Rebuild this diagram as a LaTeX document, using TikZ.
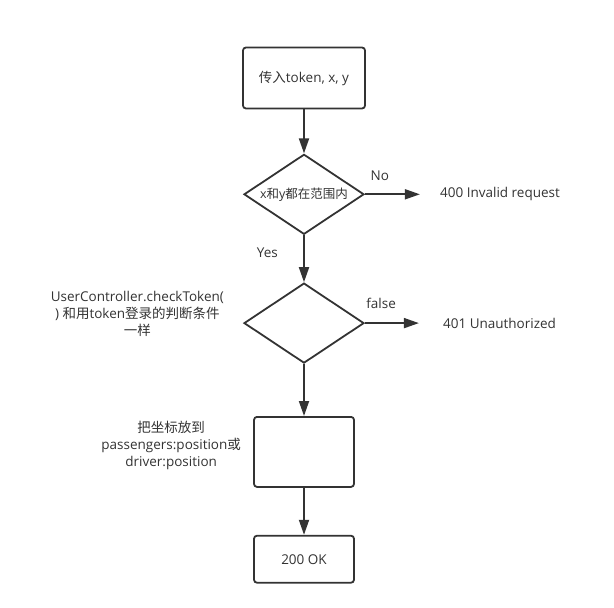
\documentclass[tikz,border=0pt]{standalone}
\usepackage{fontspec}
\setmainfont{Open Sans}
\newfontfamily\zh{Noto Sans CJK SC}
\usepackage{tikz}
\usetikzlibrary{positioning, arrows.meta, shapes.geometric}
\definecolor{ink}{HTML}{333333}

\begin{document}
\begin{tikzpicture}[
    x=1bp, y=1bp,
    font=\fontsize{13.5bp}{17bp}\selectfont, text=ink,
    process/.style={rectangle, draw=ink, line width=1.8bp, rounded corners=3bp, minimum width=122bp, minimum height=61bp},
    decision/.style={diamond, draw=ink, line width=1.8bp, minimum width=120bp, minimum height=80bp, inner sep=0pt},
    stage/.style={rectangle, draw=ink, line width=1.8bp, rounded corners=3bp, minimum width=100bp, minimum height=70bp},
    result/.style={inner xsep=20bp, inner ysep=0pt},
    note/.style={align=center, inner sep=0pt},
    arrow/.style={-{Triangle[length=15bp, width=10bp]}, line width=1.8bp, draw=ink}
]
\useasboundingbox (0,0) rectangle (614,-608);

% Main flow
\node[process] (token) at (304,-78) {{\zh 传入}token, x, y};
\node[decision, below=44bp of token, label={[font=\fontsize{12.5bp}{15bp}\selectfont]center:x{\zh 和}y{\zh 都在范围内}}] (range) {};
\node[decision, below=47bp of range] (check) {};
\node[stage, below=52bp of check] (store) {};
\node[stage, below=47bp of store, minimum height=47bp] (ok) {200 OK};

% Results
\node[result, right=55bp of range] (bad) {400 Invalid request};
\node[result, right=54bp of check, inner xsep=24bp] (unauth) {401 Unauthorized};

% Notes
\node[note, left=19bp of check, yshift=9bp] (checknote) {UserController.checkToken(\\) {\zh 和用}token{\zh 登录的判断条件}\\{\zh 一样}};
\node[note, left=12bp of store, yshift=6bp] (storenote) {{\zh 把坐标放到}\\passengers:position{\zh 或}\\driver:position};

% Arrows
\draw[arrow] (token) -- (range);
\draw[arrow] (range) -- node[above=9bp, pos=0.27] {No} (bad);
\draw[arrow] (range) -- node[left=22bp, pos=0.38] {Yes} (check);
\draw[arrow] (check) -- node[above=10bp, pos=0.3] {false} (unauth);
\draw[arrow] (check) -- (store);
\draw[arrow] (store) -- (ok);

\end{tikzpicture}
\end{document}
